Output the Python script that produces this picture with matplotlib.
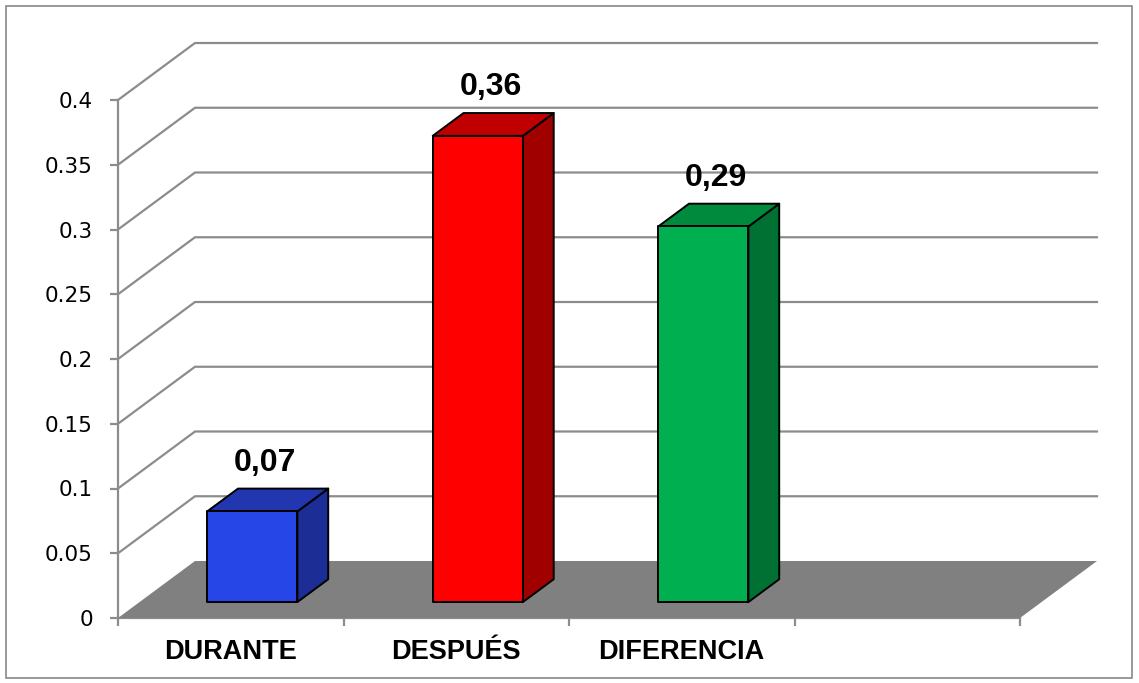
import matplotlib.pyplot as plt
from matplotlib.patches import Polygon, Rectangle

# datos
categorias = ['DURANTE', 'DESPUÉS', 'DIFERENCIA']
valores = [0.07, 0.36, 0.29]
etiquetas = ['0,07', '0,36', '0,29']
y_ticks = [0, 0.05, 0.1, 0.15, 0.2, 0.25, 0.3, 0.35, 0.4]
y_labels = ['0', '0.05', '0.1', '0.15', '0.2', '0.25', '0.3', '0.35', '0.4']

# colores (frente, arriba, lado)
colores = [('#2746e8', '#2236b0', '#1c2e96'),
           ('#ff0000', '#c00000', '#a00000'),
           ('#00b050', '#008a3e', '#007033')]

W, H = 1139, 683
fig = plt.figure(figsize=(W / 100, H / 100), dpi=100)

# plano frontal en pixeles: x 118..1020, y 100..618
ax = fig.add_axes([118 / W, (H - 618) / H, (1020 - 118) / W, (618 - 100) / H])
ax.set_xlim(-0.5, 3.5)
ax.set_ylim(0, 0.4)

# profundidad (en unidades de datos)
DX = 77 / 225.5
DY = 57 / 1295
d0, d1 = 0.28, 0.68
ancho = 0.40
gris = '#8c8c8c'

def proy(x, v, d):
    return (x + d * DX, v + d * DY)

# paredes: lineas de rejilla
for v in y_ticks[1:]:
    ax.plot([-0.5, -0.5 + DX, 3.5 + DX], [v, v + DY, v + DY],
            color=gris, lw=1.6, clip_on=False, zorder=1)

# piso
piso = Polygon([(-0.5, 0), (3.5, 0), (3.5 + DX, DY), (-0.5 + DX, DY)],
               closed=True, facecolor='#808080', edgecolor='none',
               clip_on=False, zorder=2)
ax.add_patch(piso)

# barras 3d
for i, (v, c) in enumerate(zip(valores, colores)):
    x0, x1 = i - ancho / 2, i + ancho / 2
    frente = [proy(x0, 0, d0), proy(x1, 0, d0), proy(x1, v, d0), proy(x0, v, d0)]
    arriba = [proy(x0, v, d0), proy(x1, v, d0), proy(x1, v, d1), proy(x0, v, d1)]
    lado = [proy(x1, 0, d0), proy(x1, 0, d1), proy(x1, v, d1), proy(x1, v, d0)]
    for pts, col in [(lado, c[2]), (arriba, c[1]), (frente, c[0])]:
        ax.add_patch(Polygon(pts, closed=True, facecolor=col, edgecolor='black',
                             lw=1.4, joinstyle='round', clip_on=False, zorder=3))
    tx, _ = proy(i, v, (d0 + d1) / 2)
    _, ty = proy(i, v, d1)
    ax.annotate(etiquetas[i], (tx, ty), xytext=(-2, 13), textcoords='offset points',
                ha='center', va='baseline', fontsize=23, fontweight='bold',
                family='Liberation Sans', zorder=5)

# ejes
for s in ['top', 'right']:
    ax.spines[s].set_visible(False)
for s in ['left', 'bottom']:
    ax.spines[s].set_color(gris)
    ax.spines[s].set_linewidth(1.6)
    ax.spines[s].set_zorder(0)
ax.patch.set_visible(False)

ax.set_yticks(y_ticks)
ax.set_yticklabels(y_labels, fontsize=15.5, family='DejaVu Sans')
ax.tick_params(axis='y', length=6, width=1.6, color=gris, pad=12)

ax.set_xticks([-0.5, 0.5, 1.5, 2.5, 3.5])
ax.set_xticklabels([])
ax.tick_params(axis='x', which='major', length=6, width=1.6, color=gris)
ax.set_xticks([0, 1, 2], minor=True)
ax.set_xticklabels(categorias, minor=True, fontsize=19.5, fontweight='bold',
                   family='Liberation Sans')
ax.tick_params(axis='x', which='minor', length=0, pad=15)

# borde exterior
fig.patches.append(Rectangle((6 / W, 5 / H), (1132 - 6) / W, (677 - 5) / H,
                             transform=fig.transFigure, fill=False,
                             edgecolor='#888888', lw=1.2))

fig.savefig('out.png', dpi=100)
